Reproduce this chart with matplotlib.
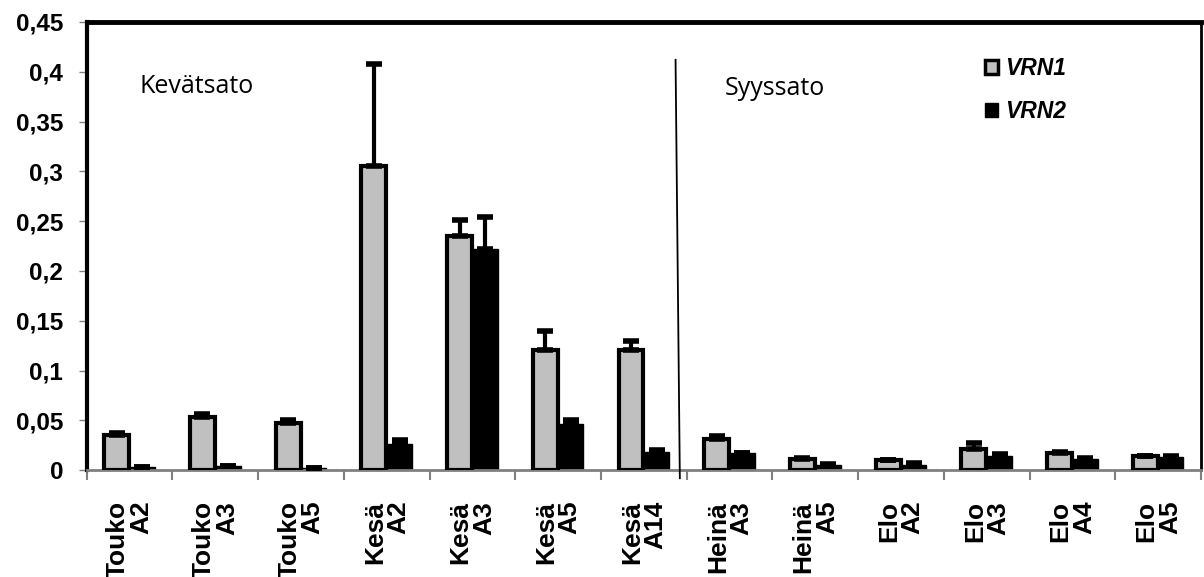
import numpy as np
import matplotlib
matplotlib.use("Agg")
import matplotlib.pyplot as plt
from matplotlib.lines import Line2D

# data
months = ["Touko", "Touko", "Touko", "Kesä", "Kesä", "Kesä", "Kesä",
          "Heinä", "Heinä", "Elo", "Elo", "Elo", "Elo"]
sites = ["A2", "A3", "A5", "A2", "A3", "A5", "A14",
         "A3", "A5", "A2", "A3", "A4", "A5"]
vrn1 = [0.035, 0.053, 0.047, 0.305, 0.235, 0.121, 0.121,
        0.031, 0.011, 0.010, 0.021, 0.017, 0.014]
vrn1_err = [0.002, 0.003, 0.003, 0.103, 0.016, 0.019, 0.009,
            0.003, 0.001, 0.000, 0.006, 0.001, 0.000]
vrn2 = [0.003, 0.004, 0.002, 0.026, 0.222, 0.046, 0.018,
        0.017, 0.005, 0.005, 0.014, 0.011, 0.013]
vrn2_err = [0.000, 0.000, 0.000, 0.004, 0.032, 0.004, 0.002,
            0.000, 0.001, 0.002, 0.002, 0.001, 0.001]

plt.rcParams['font.family'] = ['Liberation Sans', 'DejaVu Sans']

fig = plt.figure(figsize=(12.04, 5.77), dpi=100)
ax = fig.add_axes([0.072, 0.185, 0.9255, 0.777])

x = np.arange(len(months))
w = 0.29
ax.bar(x - 0.15, vrn1, w, color='#c0c0c0', edgecolor='black', linewidth=3, zorder=3)
ax.bar(x + 0.15, vrn2, w, color='black', edgecolor='black', linewidth=1, zorder=2)
ax.errorbar(x - 0.15, vrn1, yerr=[np.zeros(len(vrn1)), vrn1_err], fmt='none',
            ecolor='black', elinewidth=3, capsize=6, capthick=4, zorder=4)
ax.errorbar(x + 0.15, vrn2, yerr=[np.zeros(len(vrn2)), vrn2_err], fmt='none',
            ecolor='black', elinewidth=3, capsize=6, capthick=4, zorder=4)

ax.set_xlim(-0.5, len(months) - 0.5)
ax.set_ylim(0, 0.45)
yt = np.arange(0, 0.451, 0.05)
ax.set_yticks(yt)
ax.set_yticklabels(["0" if v == 0 else f"{v:.2f}".rstrip("0").replace(".", ",") for v in yt],
                   fontsize=17.5, fontweight='bold')
ax.tick_params(axis='y', length=6, width=1, color='#808080', pad=11)

# ticks at group boundaries, labels at centres
ax.set_xticks(np.arange(-0.5, len(months), 1.0))
ax.set_xticklabels([])
ax.set_xticks(x, minor=True)
ax.set_xticklabels([f"{m}\n{s}" for m, s in zip(months, sites)], minor=True,
                   rotation=90, fontsize=19, fontweight='bold', ha='center', va='top',
                   multialignment='right', linespacing=0.97)
ax.tick_params(axis='x', which='major', length=7, width=1.5, color='#808080')
ax.tick_params(axis='x', which='minor', length=0, pad=22)

for side, lw in [('left', 3), ('top', 3.5), ('right', 2)]:
    ax.spines[side].set_linewidth(lw)
    ax.spines[side].set_color('black')
ax.spines['bottom'].set_color('#808080')
ax.spines['bottom'].set_linewidth(2)

# divider between spring and autumn
ax.add_line(Line2D([6.37, 6.42], [0.412, -0.008], color='black', linewidth=1.3,
                   clip_on=False, zorder=5))

ax.text(0.12, 0.385, "Kevätsato", fontsize=18, family='Open Sans', va='center', ha='left')
ax.text(6.94, 0.383, "Syyssato", fontsize=18, family='Open Sans', va='center', ha='left')

handles = [plt.Rectangle((0, 0), 1, 1, facecolor='#c0c0c0', edgecolor='black', linewidth=2.5),
           plt.Rectangle((0, 0), 1, 1, facecolor='black', edgecolor='black')]
leg = ax.legend(handles, ["VRN1", "VRN2"], loc='upper left', bbox_to_anchor=(0.8065, 0.921),
                frameon=False, handlelength=0.55, handleheight=0.55, handletextpad=0.3,
                labelspacing=0.85, borderpad=0, borderaxespad=0,
                prop={'weight': 'bold', 'style': 'italic', 'size': 16.5})

fig.savefig("out.png", dpi=100)
